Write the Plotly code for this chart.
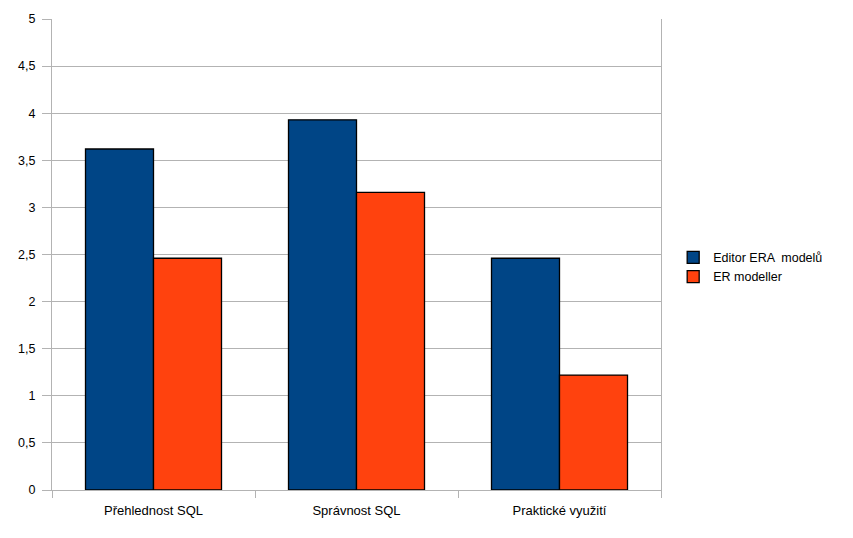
import plotly.graph_objects as go

categories = ["Přehlednost SQL", "Správnost SQL", "Praktické využití"]
editor_era = [3.62, 3.93, 2.46]
er_modeller = [2.46, 3.16, 1.22]
series_names = ["Editor ERA  modelů", "ER modeller"]
colors = ["#004586", "#ff420e"]

fig = go.Figure()
for name, vals, col in zip(series_names, [editor_era, er_modeller], colors):
    fig.add_trace(go.Bar(
        x=categories, y=vals, name=name,
        marker=dict(color=col, line=dict(color="#000000", width=1.3)),
    ))

fig.update_layout(
    width=853, height=538,
    margin=dict(l=52, r=192, t=19, b=48),
    paper_bgcolor="white", plot_bgcolor="white",
    barmode="group", bargap=0.33, bargroupgap=0,
    separators=",.",
    font=dict(family="Liberation Sans, Arial, sans-serif", size=12, color="#000000"),
    legend=dict(x=1.02, xanchor="left", y=0.473, yanchor="middle",
                font=dict(size=12.5), itemwidth=30, tracegroupgap=0,
                bgcolor="rgba(0,0,0,0)"),
    showlegend=True,
)
fig.update_yaxes(
    range=[0, 5], dtick=0.5, tick0=0,
    showgrid=True, gridcolor="#b3b3b3", gridwidth=1,
    showline=True, linecolor="#b3b3b3", linewidth=1, mirror=True,
    ticks="outside", ticklen=9, tickcolor="#b3b3b3",
    zeroline=False, ticklabelstandoff=4,
    tickfont=dict(size=12.5),
)
fig.update_xaxes(
    showline=True, linecolor="#b3b3b3", linewidth=1,
    ticks="outside", ticklen=7, tickcolor="#b3b3b3", tickson="boundaries",
    showgrid=False, ticklabelstandoff=8,
    tickfont=dict(size=13),
)
fig.write_html("out.html")
